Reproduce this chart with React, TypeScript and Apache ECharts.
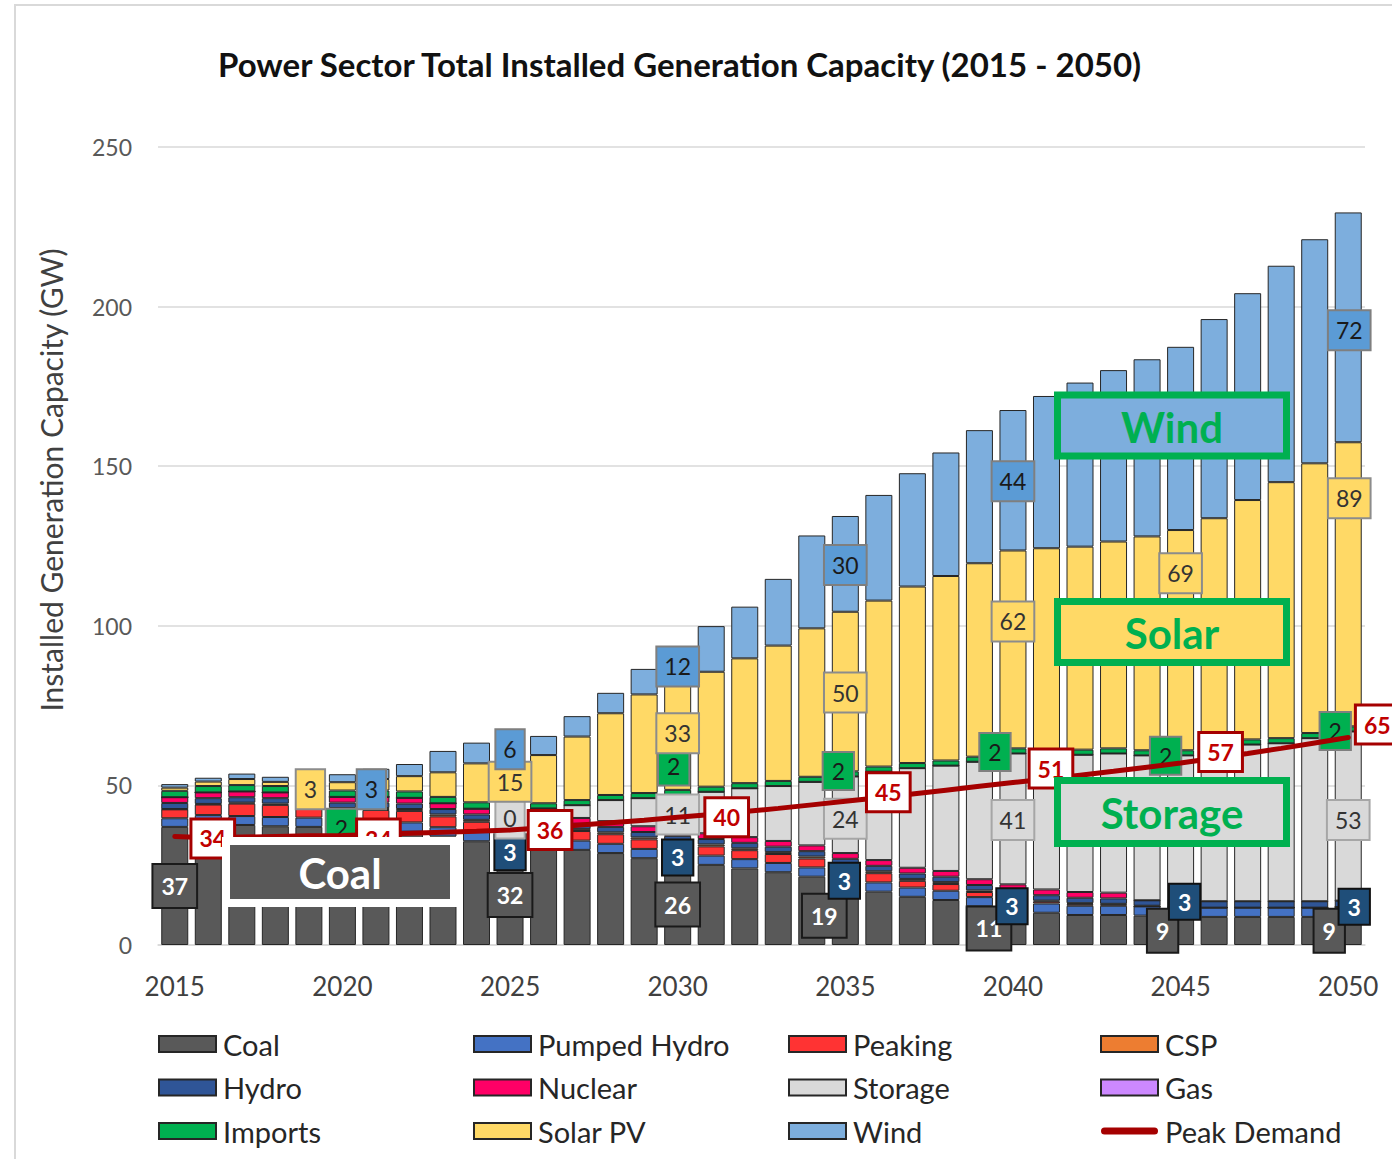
import React, { useEffect, useRef } from 'react';
import * as echarts from 'echarts';

const FONT = 'Lato, "Open Sans", "DejaVu Sans", sans-serif';

const years = [
  '2015', '2016', '2017', '2018', '2019', '2020', '2021', '2022', '2023', '2024',
  '2025', '2026', '2027', '2028', '2029', '2030', '2031', '2032', '2033', '2034',
  '2035', '2036', '2037', '2038', '2039', '2040', '2041', '2042', '2043', '2044',
  '2045', '2046', '2047', '2048', '2049', '2050',
];

const coal = [
  37.0, 38.0, 37.6, 37.2, 37.0, 36.0, 35.8, 35.5, 34.0, 32.5,
  32.0, 30.5, 29.8, 28.8, 27.2, 26.0, 25.1, 24.0, 22.8, 21.4,
  19.0, 16.7, 15.1, 14.1, 12.1, 11.0, 10.1, 9.4, 9.4, 9.2,
  9.0, 8.8, 8.8, 8.8, 8.8, 9.0,
];
const pumpedHydro = [
  2.7, 2.7, 2.8, 2.9, 2.9, 2.9, 2.9, 2.9, 2.9, 2.9,
  2.9, 2.9, 2.9, 2.9, 2.9, 2.9, 2.9, 2.9, 2.9, 2.9,
  2.9, 2.9, 2.9, 2.9, 2.9, 2.9, 2.9, 2.9, 2.9, 2.9,
  2.9, 2.9, 2.9, 2.9, 2.9, 2.9,
];
const peaking = [
  2.8, 3.3, 3.9, 3.8, 3.6, 3.4, 3.6, 3.6, 3.4, 3.2,
  3.0, 3.0, 3.0, 3.0, 3.0, 3.0, 2.9, 2.8, 2.8, 2.8,
  2.8, 2.9, 2.1, 2.1, 1.6, 1.2, 0.6, 0.5, 0.4, 0,
  0, 0, 0, 0, 0, 0,
];
const csp = [
  0.1, 0.2, 0.3, 0.4, 0.5, 0.6, 0.6, 0.6, 0.6, 0.6,
  0.6, 0.6, 0.6, 0.6, 0.6, 0.6, 0.6, 0.6, 0.6, 0.6,
  0.6, 0.6, 0.6, 0.6, 0.5, 0.4, 0.3, 0.3, 0.2, 0.2,
  0, 0, 0, 0, 0, 0,
];
const hydro = [
  1.9, 1.8, 1.7, 1.7, 1.7, 1.7, 1.7, 1.7, 1.7, 1.7,
  1.7, 1.7, 1.7, 1.7, 1.7, 1.7, 1.7, 1.7, 1.7, 1.7,
  1.7, 1.7, 1.7, 1.7, 1.7, 1.7, 1.7, 1.7, 1.7, 1.7,
  2.0, 2.0, 2.0, 2.0, 2.0, 2.0,
];
const nuclear = [
  1.8, 1.8, 1.8, 1.8, 1.8, 1.8, 1.8, 1.8, 1.8, 1.8,
  1.8, 1.8, 1.8, 1.8, 1.8, 1.8, 1.8, 1.8, 1.8, 1.8,
  1.8, 1.8, 1.8, 1.8, 1.8, 1.8, 1.8, 1.8, 1.8, 0,
  0, 0, 0, 0, 0, 0,
];
const storage = [
  0, 0, 0, 0, 0, 0, 0, 0, 0, 0,
  0.3, 2.3, 4.0, 6.6, 8.8, 11.0, 13.0, 15.3, 17.2, 19.9,
  24.0, 27.7, 31.2, 33.0, 36.8, 41.0, 42.0, 43.0, 43.6, 45.4,
  45.5, 48.0, 49.1, 49.5, 51.1, 53.0,
];
const gas = [
  0, 0, 0, 0, 0, 0, 0, 0, 0, 0,
  0, 0, 0, 0, 0, 0, 0, 0, 0, 0,
  0, 0, 0, 0, 0, 0, 0, 0, 0, 0,
  0, 0, 0, 0, 0, 0,
];
const imports = [
  2.0, 2.0, 2.0, 2.0, 2.0, 2.0, 2.0, 2.0, 2.0, 2.0,
  2.0, 1.6, 1.6, 1.6, 1.6, 1.6, 1.6, 1.6, 1.6, 1.6,
  1.6, 1.6, 1.6, 1.6, 1.6, 1.6, 1.6, 1.6, 1.6, 1.6,
  1.6, 1.6, 1.6, 1.6, 1.6, 1.6,
];
const solarPV = [
  1.0, 1.4, 1.9, 1.3, 2.0, 2.6, 3.6, 4.8, 7.7, 12.2,
  15.0, 15.1, 19.9, 25.6, 30.9, 33.0, 36.0, 39.1, 42.4, 46.5,
  50.0, 52.0, 55.3, 57.8, 60.6, 62.0, 63.3, 63.6, 64.8, 67.0,
  69.0, 70.4, 75.0, 80.2, 84.5, 89.0,
];
const wind = [
  1.1, 1.2, 1.7, 1.6, 2.2, 2.5, 3.2, 3.8, 6.7, 6.5,
  6.0, 6.0, 6.4, 6.4, 8.0, 12.0, 14.3, 16.2, 20.9, 29.1,
  30.0, 33.1, 35.5, 38.7, 41.7, 44.0, 47.7, 51.4, 53.7, 55.5,
  57.4, 62.4, 64.8, 67.8, 70.2, 72.0,
];
const peakDemand = [
  34.0, 33.6, 33.8, 34.0, 34.2, 34.3, 34.6, 35.0, 35.3, 35.6,
  36.0, 36.7, 37.5, 38.3, 39.1, 40.0, 40.9, 41.8, 42.8, 43.9,
  45.0, 46.1, 47.3, 48.5, 49.7, 50.9, 52.0, 53.2, 54.4, 55.7,
  57.0, 58.5, 60.0, 61.6, 63.3, 65.0,
];

// label placement (pixel offsets from the default label position), keyed by year index
type Off = Record<number, [number, number]>;
const coalLabelOffsets: Off = { 0: [0, 0], 10: [0, 1], 15: [0, 1], 20: [-21, 1], 25: [-24, 1], 30: [-18, 0], 35: [-19, 0] };
const phLabelOffsets: Off = { 10: [0, 14], 15: [0, 0], 20: [-1, 1], 25: [-1, 1], 30: [4, -10], 35: [6, -5] };
const storageLabelOffsets: Off = { 10: [0, 8], 15: [0, 2], 20: [0, 4], 25: [0, 1], 35: [0, 4] };
const importsLabelOffsets: Off = { 5: [-1, 34], 15: [-4, -26], 20: [-7, -3], 25: [-18, 1], 30: [-15, 3], 35: [-13, 2] };
const solarLabelOffsets: Off = { 5: [-32, 3], 10: [0, 2], 15: [0, -4], 20: [0, 1], 25: [0, -28], 30: [0, -67], 35: [1, -86] };
const windLabelOffsets: Off = { 5: [29, 11], 10: [0, 3], 15: [0, 1], 20: [0, 1], 25: [0, 1], 35: [1, 3] };
const peakLabelOffsets: Off = { 0: [38, 2], 5: [36, 3], 10: [40, 0], 15: [49, 0], 20: [43, -9], 25: [38, -14], 30: [40, -11], 35: [29, -13] };

function withLabels(values: number[], offsets?: Off) {
  if (!offsets) return values;
  return values.map((v, i) =>
    offsets[i] ? { value: v, label: { show: true, offset: offsets[i] } } : v
  );
}

const fmt = (p: any) => String(Math.round(p.value));

const baseLabel = {
  show: false,
  position: 'inside',
  formatter: fmt,
  fontFamily: FONT,
  fontSize: 23,
  lineHeight: 24,
};

function bar(name: string, values: number[], color: string, labelStyle?: any, offsets?: Off) {
  return {
    name,
    type: 'bar',
    stack: 'total',
    barWidth: 27,
    itemStyle: { color, borderColor: '#262626', borderWidth: 1 },
    label: { ...baseLabel, ...(labelStyle || {}) },
    emphasis: { disabled: true },
    data: withLabels(values, offsets),
  };
}

const legendBase = {
  orient: 'vertical',
  top: 1029,
  padding: 0,
  itemWidth: 57,
  itemHeight: 16,
  itemGap: 13.5,
  icon: 'rect',
  selectedMode: false,
  textStyle: { fontFamily: FONT, fontSize: 29, color: '#262626', lineHeight: 30, padding: [0, 0, 0, 2] },
};

function boxLabel(text: string, x: number, y: number, w: number, h: number, fill: string) {
  return {
    type: 'group',
    z: 100,
    children: [
      {
        type: 'rect',
        z: 100,
        shape: { x, y, width: w, height: h },
        style: { fill, stroke: '#00B050', lineWidth: 7 },
      },
      {
        type: 'text',
        z: 101,
        x: x + w / 2,
        y: y + h / 2 + 1,
        style: {
          text,
          fill: '#00B050',
          font: `bold 42px ${FONT}`,
          textAlign: 'center',
          textVerticalAlign: 'middle',
        },
      },
    ],
  };
}

const option: any = {
  animation: false,
  backgroundColor: '#ffffff',
  title: {
    text: 'Power Sector Total Installed Generation Capacity (2015 - 2050)',
    left: 213,
    top: 42,
    padding: 5,
    textStyle: { fontFamily: FONT, fontSize: 33, fontWeight: 'bold', color: '#111' },
  },
  grid: { left: 158, right: 27, top: 147, bottom: 214 },
  xAxis: {
    type: 'category',
    data: years,
    axisTick: { show: false },
    axisLine: { show: true, lineStyle: { color: '#d9d9d9', width: 1.5 } },
    axisLabel: { interval: 4, fontFamily: FONT, fontSize: 26, color: '#404040', margin: 28 },
  },
  yAxis: {
    type: 'value',
    min: 0,
    max: 250,
    interval: 50,
    name: 'Installed Generation Capacity (GW)',
    nameLocation: 'middle',
    nameGap: 92,
    nameTextStyle: { fontFamily: FONT, fontSize: 30, color: '#404040', padding: [0, 0, 0, 132] },
    axisLine: { show: false },
    axisTick: { show: false },
    axisLabel: { fontFamily: FONT, fontSize: 23, color: '#595959', margin: 26 },
    splitLine: { lineStyle: { color: '#d9d9d9', width: 1.5 } },
  },
  legend: [
    { ...legendBase, left: 158, data: ['Coal', 'Hydro', 'Imports'] },
    { ...legendBase, left: 473, data: ['Pumped Hydro', 'Nuclear', 'Solar PV'] },
    { ...legendBase, left: 788, data: ['Peaking', 'Storage', 'Wind'] },
    {
      ...legendBase,
      left: 1100,
      data: [
        'CSP',
        'Gas',
        { name: 'Peak Demand', icon: 'path://M4,0 L60,0 A4,4 0 0 1 60,8 L4,8 A4,4 0 0 1 4,0 Z' },
      ],
    },
  ],
  series: [
    bar('Coal', coal, '#595959', {
      color: '#fff', fontWeight: 'bold', backgroundColor: '#595959',
      borderColor: '#1a1a1a', borderWidth: 2, padding: [9, 8],
    }, coalLabelOffsets),
    bar('Pumped Hydro', pumpedHydro, '#4472C4', {
      color: '#fff', fontWeight: 'bold', backgroundColor: '#1F4E79',
      borderColor: '#111', borderWidth: 2, padding: [5, 8],
    }, phLabelOffsets),
    bar('Peaking', peaking, '#FF3333'),
    bar('CSP', csp, '#ED7D31'),
    bar('Hydro', hydro, '#2F5597'),
    bar('Nuclear', nuclear, '#FF0066'),
    bar('Storage', storage, '#D9D9D9', {
      color: '#333', backgroundColor: '#D9D9D9',
      borderColor: '#A6A6A6', borderWidth: 2, padding: [7, 7],
    }, storageLabelOffsets),
    bar('Gas', gas, '#CC88FF'),
    bar('Imports', imports, '#00B050', {
      color: '#1a1a1a', backgroundColor: '#00B050',
      borderColor: '#7f7f7f', borderWidth: 2, padding: [6, 8],
    }, importsLabelOffsets),
    bar('Solar PV', solarPV, '#FFD966', {
      color: '#333', backgroundColor: '#FFD966',
      borderColor: '#8c8c8c', borderWidth: 2, padding: [7, 7],
    }, solarLabelOffsets),
    bar('Wind', wind, '#7DAEDD', {
      color: '#1a1a1a', backgroundColor: '#5B9BD5',
      borderColor: '#7f7f7f', borderWidth: 2, padding: [7, 7],
    }, windLabelOffsets),
    {
      name: 'Peak Demand',
      type: 'line',
      z: 5,
      symbol: 'circle',
      symbolSize: 2,
      showSymbol: true,
      lineStyle: { color: '#A50000', width: 5, cap: 'round' },
      itemStyle: { color: '#A50000' },
      emphasis: { disabled: true },
      label: {
        ...baseLabel,
        color: '#C00000', fontWeight: 'bold', backgroundColor: '#fff',
        borderColor: '#A50000', borderWidth: 3, padding: [6, 7],
      },
      data: withLabels(peakDemand, peakLabelOffsets),
    },
  ],
  graphic: [
    {
      type: 'rect',
      z: 0,
      silent: true,
      shape: { x: 15, y: 5, width: 1420, height: 1200 },
      style: { fill: 'none', stroke: '#d9d9d9', lineWidth: 2 },
    },
    {
      type: 'group',
      z: 100,
      children: [
        {
          type: 'rect',
          z: 100,
          shape: { x: 226, y: 841, width: 228, height: 62 },
          style: { fill: '#595959', stroke: '#ffffff', lineWidth: 8 },
        },
        {
          type: 'text',
          z: 101,
          x: 340,
          y: 873,
          style: {
            text: 'Coal',
            fill: '#ffffff',
            font: `bold 42px ${FONT}`,
            textAlign: 'center',
            textVerticalAlign: 'middle',
          },
        },
      ],
    },
    boxLabel('Wind', 1057.5, 395, 229, 61, '#7DAEDD'),
    boxLabel('Solar', 1057.5, 601.5, 229, 61, '#FFD966'),
    boxLabel('Storage', 1057.5, 780.5, 229, 63, '#D9D9D9'),
  ],
};

export default function App() {
  const ref = useRef<HTMLDivElement>(null);
  useEffect(() => {
    if (!ref.current) return;
    const chart = echarts.init(ref.current, null, { renderer: 'svg' });
    chart.setOption(option);
    return () => {
      chart.dispose();
    };
  }, []);
  return (
    <div
      ref={ref}
      style={{ position: 'fixed', left: 0, top: 0, width: 1392, height: 1159, background: '#fff' }}
    />
  );
}
